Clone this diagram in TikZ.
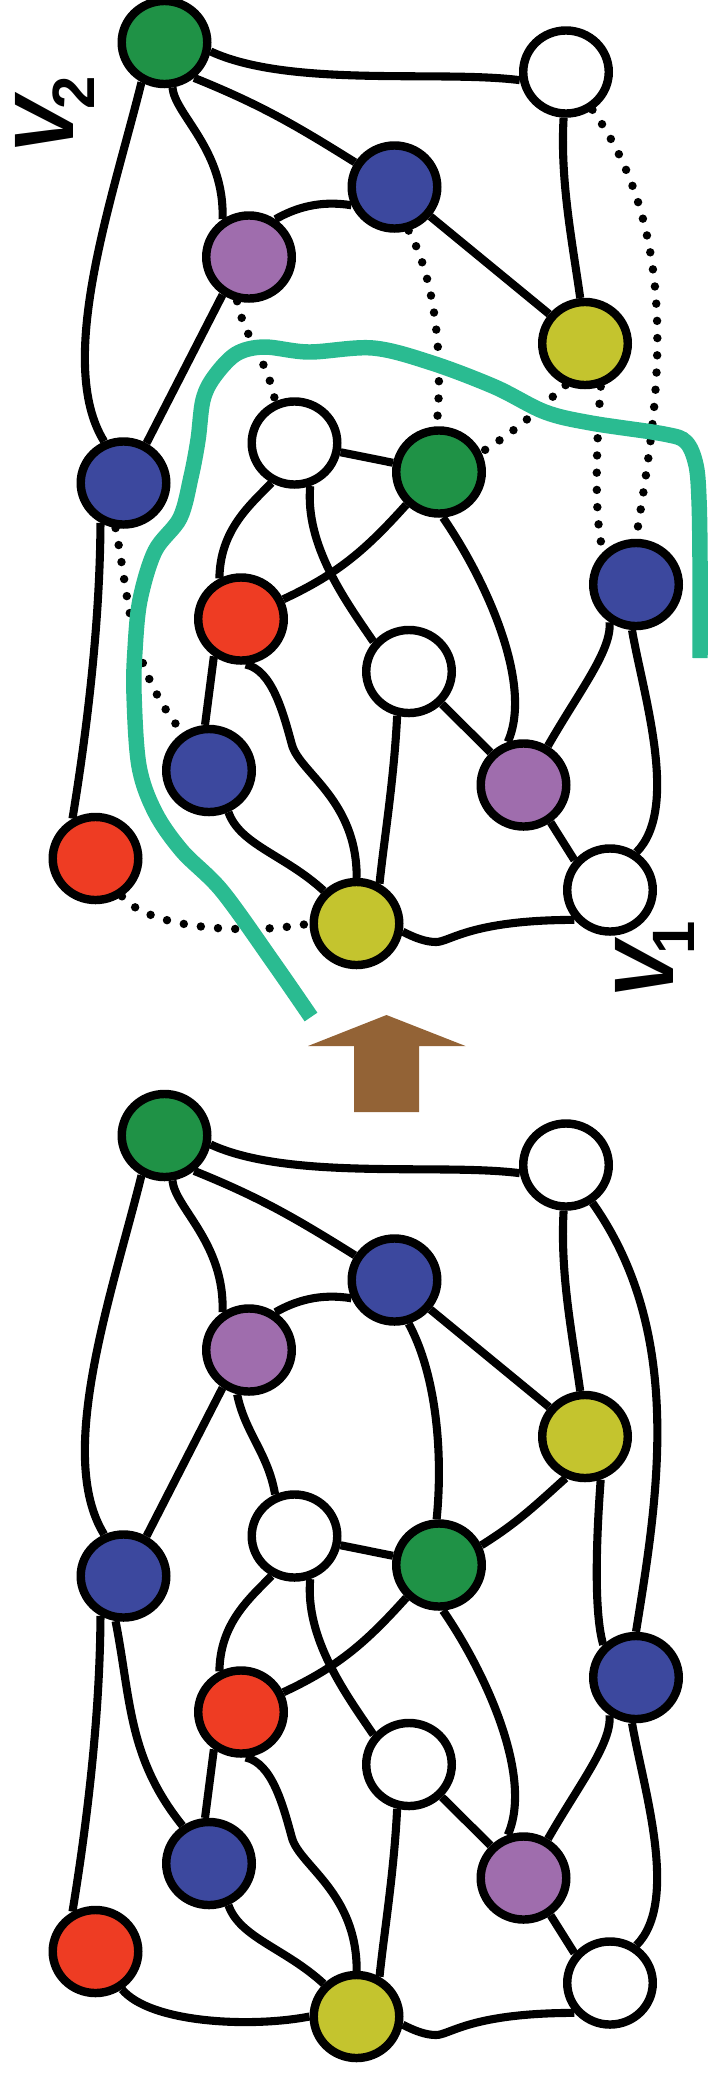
\documentclass[tikz,border=0pt]{standalone}
\usepackage{fontspec}
\usepackage{tikz}
\usetikzlibrary{shapes.geometric}
\newfontfamily\labelfont{Liberation Sans}

\definecolor{vgreen}{RGB}{31,146,70}
\definecolor{vblue}{RGB}{60,72,158}
\definecolor{vpurple}{RGB}{159,109,173}
\definecolor{vred}{RGB}{238,60,35}
\definecolor{vyellow}{RGB}{196,196,46}
\definecolor{cutteal}{RGB}{42,187,145}
\definecolor{arrowbrown}{RGB}{147,99,54}

\tikzset{
  vertex/.style={ellipse, draw=black, line width=2.4pt, inner sep=0pt,
    minimum width=0.855cm, minimum height=0.83cm, fill=white},
  gv/.style={vertex, fill=vgreen},
  bv/.style={vertex, fill=vblue},
  pv/.style={vertex, fill=vpurple},
  rv/.style={vertex, fill=vred},
  yv/.style={vertex, fill=vyellow},
  wv/.style={vertex},
  solidedge/.style={line width=2.3pt},
  dotedge/.style={line width=2.4pt, line cap=round, dash pattern=on 0pt off 4.9pt},
  cutline/.style={cutteal, line width=4.4pt},
  setlabel/.style={rotate=90, anchor=base west, inner sep=0pt, font=\labelfont\bfseries}
}

\begin{document}
\begin{tikzpicture}[x=0.01cm, y=-0.01cm]
  \useasboundingbox (0,0) rectangle (713,2075);

  % the same graph twice, on top the cut edges are dotted
  \foreach \g/\dy/\cut in {top/0/dotedge, bot/1093/solidedge}{
    \begin{scope}[shift={(0,\dy)}]
      \node[gv] (\g-g1) at (164.5,42.5) {};
      \node[wv] (\g-w1) at (566,72) {};
      \node[bv] (\g-b1) at (394.5,187) {};
      \node[pv] (\g-p1) at (249,257) {};
      \node[yv] (\g-y1) at (585,343.5) {};
      \node[wv] (\g-w2) at (294.5,443) {};
      \node[gv] (\g-g2) at (439,472) {};
      \node[bv] (\g-b2) at (123.5,483) {};
      \node[bv] (\g-b3) at (636,584.5) {};
      \node[rv] (\g-r1) at (241,619) {};
      \node[wv] (\g-w3) at (409,671.5) {};
      \node[bv] (\g-b4) at (209,770.5) {};
      \node[pv] (\g-p2) at (523.5,785) {};
      \node[rv] (\g-r2) at (95.5,858.5) {};
      \node[yv] (\g-y2) at (356.5,923.5) {};
      \node[wv] (\g-w4) at (610,890) {};

      \draw[solidedge] (\g-g1.-11) .. controls (290,88) and (440,70) .. (\g-w1.190);
      \draw[solidedge] (\g-g1.-50) to[out=-22, in=148] (\g-b1.148);
      \draw[solidedge] (\g-g1.-80) .. controls (175,115) and (225,150) .. (\g-p1.125);
      \draw[solidedge] (\g-g1.-120) .. controls (112,201) and (55,362) .. (\g-b2.115);
      \draw[solidedge] (\g-w1.-93) .. controls (560,180) and (572,240) .. (\g-y1.96);
      \draw[\cut] (\g-w1.-55) .. controls (686,242) and (657,408) .. (\g-b3.90);
      \draw[solidedge] (\g-b1.203) .. controls (320,200) and (295,208) .. (\g-p1.55);
      \draw[solidedge] (\g-b1) -- (\g-y1);
      \draw[\cut] (\g-b1.-72) .. controls (437,283) and (443,363) .. (\g-g2.93);
      \draw[solidedge] (\g-p1.235) -- (\g-b2.60);
      \draw[\cut] (\g-p1.-105) .. controls (245,340) and (268,360) .. (\g-w2.115);
      \draw[solidedge] (\g-w2) -- (\g-g2);
      \draw[\cut] (\g-y1.-115) to[out=-138, in=32] (\g-g2.25);
      \draw[\cut] (\g-y1.-70) .. controls (596,450) and (594,520) .. (\g-b3.135);
      \draw[solidedge] (\g-b2.-120) .. controls (100,619) and (88,724) .. (\g-r2.120);
      \draw[\cut] (\g-b2.-100) .. controls (131,607) and (128,665) .. (\g-b4.125);
      \draw[solidedge] (\g-w2.-120) .. controls (250,505) and (220,530) .. (\g-r1.118);
      \draw[solidedge] (\g-w2.-70) .. controls (305,545) and (345,600) .. (\g-w3.140);
      \draw[solidedge] (\g-g2.-135) to[out=-132, in=25] (\g-r1.25);
      \draw[solidedge] (\g-g2.-85) .. controls (484,577) and (534,683) .. (\g-p2.110);
      \draw[solidedge] (\g-b3.-125) .. controls (612,650) and (580,690) .. (\g-p2.58);
      \draw[solidedge] (\g-b3.-95) .. controls (643,694) and (680,808) .. (\g-w4.55);
      \draw[solidedge] (\g-r1.-126) -- (\g-b4.95);
      \draw[solidedge] (\g-r1.-84) .. controls (272,670) and (283,712) .. (292,745)
        .. controls (300,773) and (357,800) .. (\g-y2);
      \draw[solidedge] (\g-w3.-105) .. controls (394,780) and (384,840) .. (\g-y2.60);
      \draw[solidedge] (\g-w3) -- (\g-p2);
      \draw[solidedge] (\g-b4.-65) .. controls (240,845) and (285,855) .. (\g-y2.135);
      \draw[\cut] (\g-r2.-55) .. controls (150,930) and (250,935) .. (\g-y2.180);
      \draw[solidedge] (\g-y2.-10) .. controls (415,938) and (426,942) .. (436,942)
        .. controls (450,942) and (470,920) .. (\g-w4.-140);
      \draw[solidedge] (\g-p2.-54) -- (\g-w4.140);
    \end{scope}
  }

  % the cut
  \draw[cutline] plot[smooth, tension=0.55] coordinates {
    (700,658) (700,560) (699,500) (696,465) (686,442) (664,434) (591,423)
    (545,412) (495,387) (432,363) (373,348) (309,352) (264,347) (236,354)
    (214,377) (203,400) (198,440) (191,477) (180,518) (155,551) (140,600)
    (135,650) (134,694) (139,766) (155,812) (182,851) (222,891) (273,962)
    (311,1017)};

  \node[setlabel] (v2) at (73,155)
    {\fontsize{24}{24}\selectfont\textit{V}\kern-5pt\raisebox{-6pt}{\fontsize{17}{17}\selectfont 2}};
  \node[setlabel] (v1) at (673,1000)
    {\fontsize{24}{24}\selectfont\textit{V}\kern-5pt\raisebox{-6pt}{\fontsize{17}{17}\selectfont 1}};

  \fill[arrowbrown] (354,1112) -- (354,1046) -- (308,1046) -- (386.5,1015)
    -- (465.5,1046) -- (419,1046) -- (419,1112) -- cycle;
\end{tikzpicture}
\end{document}
